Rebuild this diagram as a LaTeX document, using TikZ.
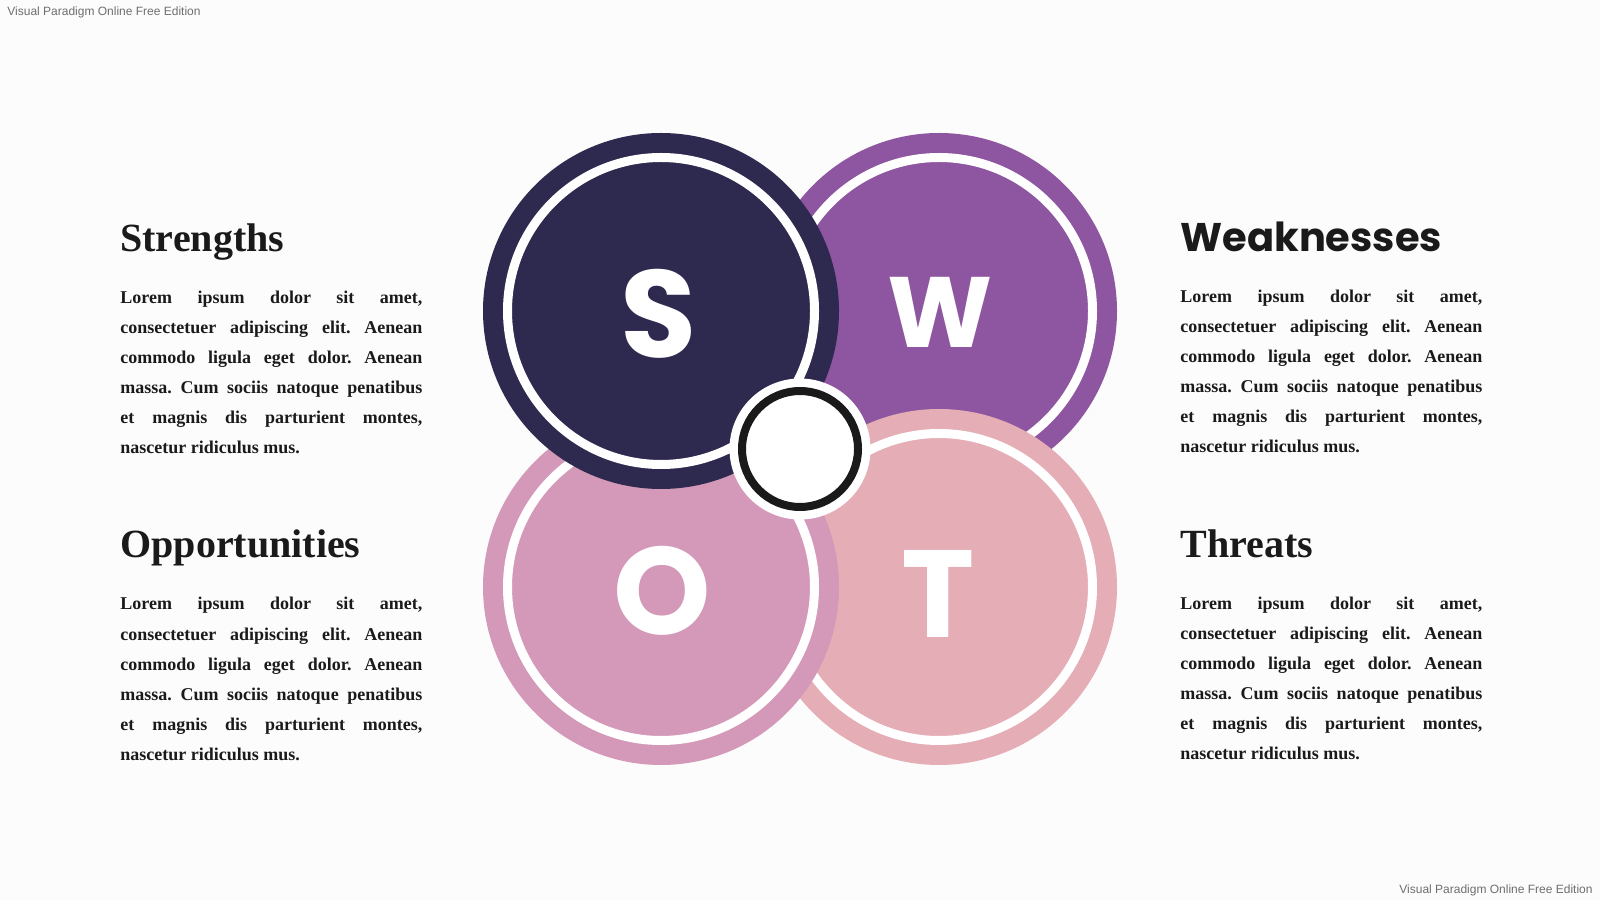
\documentclass[tikz,border=0pt]{standalone}
\usepackage{fontspec}
\setmainfont{Liberation Serif}
\newfontfamily\poppins{Poppins}
\newfontfamily\wmfont{Liberation Sans}
\definecolor{bgpage}{HTML}{FCFCFC}
\definecolor{inkdark}{HTML}{1A1A1A}
\definecolor{swotS}{HTML}{2E294E}
\definecolor{swotW}{HTML}{8E55A0}
\definecolor{swotO}{HTML}{D499B9}
\definecolor{swotT}{HTML}{E5ADB5}
\definecolor{wmgray}{HTML}{6E6E6E}
\hbadness=10000
\tolerance=9999
\frenchspacing
\newcommand{\loremtext}{Lorem ipsum dolor sit amet,\linebreak
  consectetuer adipiscing elit. Aenean\linebreak
  commodo ligula eget dolor. Aenean\linebreak
  massa. Cum sociis natoque penatibus\linebreak
  et magnis dis parturient montes,\linebreak
  nascetur ridiculus mus.}

\begin{document}
\begin{tikzpicture}[x=0.5pt, y=0.5pt,
  disc/.style={line width=4.5pt, draw=white},
  letter/.style={text=white, font=\poppins\bfseries\fontsize{62}{62}\selectfont, inner sep=0pt},
  heading/.style={anchor=base west, inner sep=0pt, text=inkdark,
    font=\bfseries\fontsize{20}{24}\selectfont},
  body/.style={anchor=base west, inner sep=0pt, text=inkdark, text width=151pt,
    align=justify, font=\bfseries\fontsize{9}{15}\selectfont},
  watermark/.style={inner sep=0pt, text=wmgray, font=\wmfont\fontsize{6}{7}\selectfont}]
  \fill[bgpage] (0,0) rectangle (1600,900);

  \coordinate (cS) at (661, 589);
  \coordinate (cW) at (939, 589);
  \coordinate (cO) at (661, 313);
  \coordinate (cT) at (939, 313);
  \coordinate (mid) at (800, 451);

  % circles, back to front
  \fill[swotW] (cW) circle (178);
  \draw[disc, fill=swotW] (cW) circle (153.5);
  \fill[swotT] (cT) circle (178);
  \draw[disc, fill=swotT] (cT) circle (153.5);
  \fill[swotO] (cO) circle (178);
  \draw[disc, fill=swotO] (cO) circle (153.5);
  \fill[swotS] (cS) circle (178);
  \draw[disc, fill=swotS] (cS) circle (153.5);
  \fill[white] (mid) circle (70.5);
  \draw[inkdark, line width=4pt, fill=white] (mid) circle (58);

  \node[letter] (S) at (659, 586) {S};
  \node[letter, font=\poppins\bfseries\fontsize{50}{50}\selectfont] (W) at (940, 588) {W};
  \node[letter] (O) at (662, 309) {O};
  \node[letter] (T) at (938, 306) {T};

  \node[heading] (strengths) at (120, 648) {Strengths};
  \node[body] (strengthsbody) at (120, 596) {\loremtext};
  \node[heading] (opportunities) at (120, 342) {Opportunities};
  \node[body] (opportunitiesbody) at (120, 290) {\loremtext};
  \node[heading, font=\poppins\bfseries\fontsize{20}{24}\selectfont] (weaknesses) at (1180, 648) {Weaknesses};
  \node[body] (weaknessesbody) at (1180, 597) {\loremtext};
  \node[heading] (threats) at (1180, 342) {Threats};
  \node[body] (threatsbody) at (1180, 291) {\loremtext};

  \node[watermark, anchor=base west] (wmtop) at (7, 884) {Visual Paradigm Online Free Edition};
  \node[watermark, anchor=base east] (wmbottom) at (1593, 7) {Visual Paradigm Online Free Edition};
\end{tikzpicture}
\end{document}
